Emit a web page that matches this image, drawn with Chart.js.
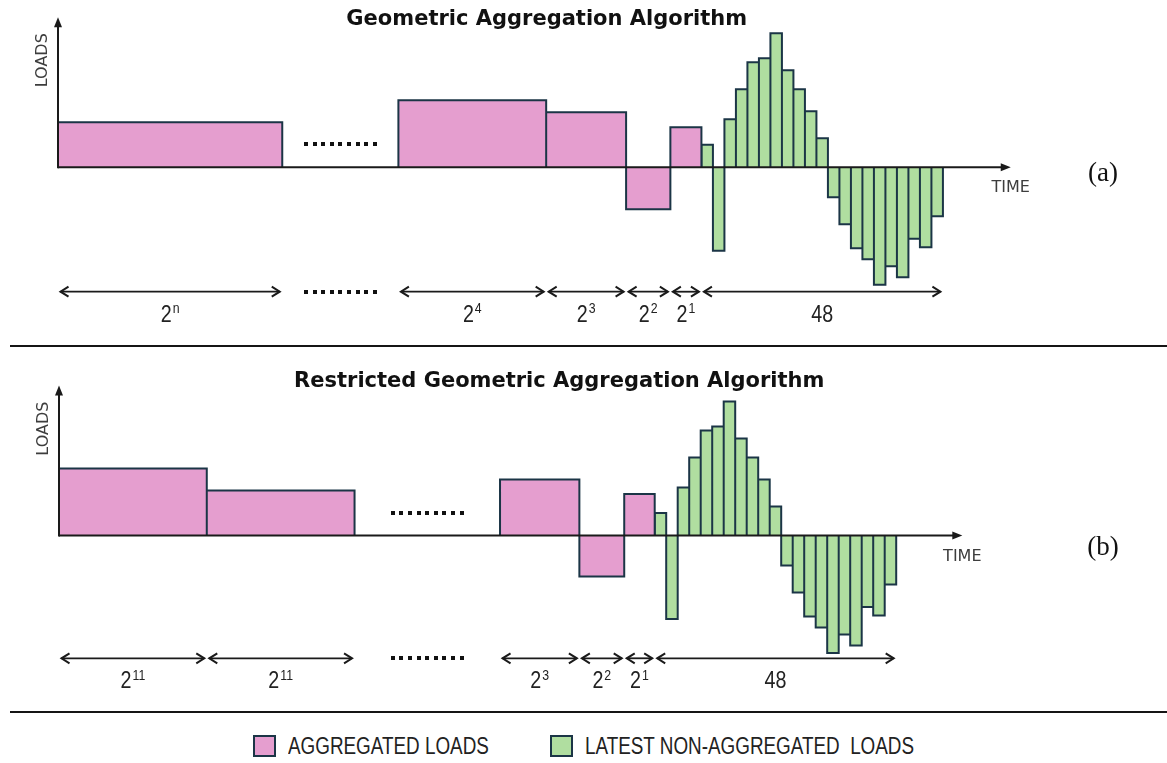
<!DOCTYPE html>
<html>
<head>
<meta charset="utf-8">
<title>Geometric Aggregation Algorithm</title>
<script src="https://cdn.jsdelivr.net/npm/chart.js@4.4.1/dist/chart.umd.min.js"></script>
<style>
  html, body { margin: 0; padding: 0; background: #fff; }
  body { width: 1167px; height: 763px; position: relative; overflow: hidden; }
  .panel { position: absolute; left: 0; width: 1167px; }
  #panelA { top: 0; height: 346px; }
  #panelB { top: 346px; height: 366px; }
  .rule { position: absolute; left: 10px; right: 0; height: 2px; background: #151515; z-index: 2; }
  .tag { position: absolute; transform: translate(-50%, -50%); font-family: 'Liberation Serif', 'Times New Roman', serif;
         font-size: 27px; color: #111; white-space: nowrap; }
  #legend { position: absolute; top: 734px; left: 0; width: 1167px; height: 24px; display: flex;
            justify-content: center; align-items: center; gap: 61px; }
  #legend .entry { display: flex; align-items: center; }
  #legend .swatch { width: 19px; height: 18px; border: 2.5px solid; margin-right: 12px; }
  #legend .label { display: inline-block; font-family: 'Liberation Sans', Arial, sans-serif; font-size: 23px;
                   color: #222; white-space: pre; transform: scaleX(0.82); transform-origin: left center; }
</style>
</head>
<body>
<div class="panel" id="panelA"><canvas id="chartA"></canvas></div>
<div class="rule" style="top:345px"></div>
<div class="panel" id="panelB"><canvas id="chartB"></canvas></div>
<div class="rule" style="top:711px"></div>
<div class="tag" style="left:1103px; top:172px">(a)</div>
<div class="tag" style="left:1103px; top:546px">(b)</div>
<div id="legend"></div>

<script>
// Most recent loads, one per time step, kept at full resolution in both schemes.
const latestLoads = [2.25, -8.35, 4.8, 7.8, 10.5, 10.9, 13.4, 9.7, 7.8, 5.6, 2.9,
                     -3.0, -5.7, -8.1, -9.2, -11.75, -9.9, -11.0, -7.15, -8.0, -4.9];
const latestSpan = ['48', ''];

// (a) Geometric aggregation: older blocks double in length.
const aggSpansA   = [['2', 'n'], ['2', '4'], ['2', '3'], ['2', '2'], ['2', '1']];
const aggWidthsA  = [19.5, 12.85, 6.95, 3.85, 2.7];
const aggLoadsA   = [4.5, 6.7, 5.5, -4.2, 4.0];
const elidedAfterA = 0;      // blocks left out ("........") after this one
const elidedWidthA = 10.1;

// (b) Restricted geometric aggregation: block length capped at 2^11.
const aggSpansB   = [['2', '11'], ['2', '11'], ['2', '3'], ['2', '2'], ['2', '1']];
const aggWidthsB  = [12.85, 12.85, 6.9, 3.9, 2.65];
const aggLoadsB   = [6.7, 4.5, 5.6, -4.1, 4.15];
const elidedAfterB = 1;
const elidedWidthB = 12.65;

const seriesNames = ['AGGREGATED LOADS', 'LATEST NON-AGGREGATED  LOADS'];
const panelTitles = ['Geometric Aggregation Algorithm', 'Restricted Geometric Aggregation Algorithm'];
const axisNames = ['LOADS', 'TIME'];

// ---- styling
const PINK = '#e59ecf';
const GREEN = '#b0dea0';
const EDGE = '#1b3546';
const INK = '#1a1a1a';
const NARROW = 0.82;

// Lay the blocks end to end along the time axis.
function buildPanel(spans, widths, loads, elidedAfter, elidedWidth) {
  const blocks = [];
  let gap = null;
  let x = 0;
  widths.forEach((w, i) => {
    blocks.push({ from: x, to: x + w, load: loads[i], span: spans[i] });
    x += w;
    if (i === elidedAfter) {
      gap = { from: x, to: x + elidedWidth };
      x += elidedWidth;
    }
  });
  const latest = latestLoads.map((v, i) => ({ from: x + i, to: x + i + 1, load: v }));
  return { blocks, gap, latest };
}

// Outline of consecutive rectangles as a step line; a null point breaks the
// outline where blocks are not adjacent.
function stepPoints(blocks) {
  const pts = [];
  blocks.forEach((b, i) => {
    const prev = blocks[i - 1];
    if (prev && prev.to !== b.from) pts.push({ x: (prev.to + b.from) / 2, y: null });
    pts.push({ x: b.from, y: 0 }, { x: b.from, y: b.load }, { x: b.to, y: b.load }, { x: b.to, y: 0 });
  });
  return pts;
}

function chevron(ctx, tipX, yy, dir) {
  ctx.beginPath();
  ctx.moveTo(tipX - dir * 8, yy - 5);
  ctx.lineTo(tipX, yy);
  ctx.lineTo(tipX - dir * 8, yy + 5);
  ctx.stroke();
}

function narrowText(ctx, text, x, y, font) {
  ctx.save();
  ctx.translate(x, y);
  ctx.scale(NARROW, 1);
  ctx.font = font;
  ctx.fillText(text, 0, 0);
  ctx.restore();
}

function spanLabel(ctx, cx, baseY, label) {
  const baseFont = '24px "Liberation Sans", Arial, sans-serif';
  const expFont = '15px "Liberation Sans", Arial, sans-serif';
  ctx.font = baseFont;
  const bw = ctx.measureText(label[0]).width * NARROW;
  ctx.font = expFont;
  const ew = label[1] ? ctx.measureText(label[1]).width * NARROW + 1 : 0;
  const left = cx - (bw + ew) / 2;
  ctx.textAlign = 'left';
  ctx.textBaseline = 'alphabetic';
  narrowText(ctx, label[0], left, baseY, baseFont);
  if (label[1]) narrowText(ctx, label[1], left + bw + 1, baseY - 8.5, expFont);
}

function dotRow(ctx, cx, yy) {
  for (let i = 0; i < 9; i++) ctx.fillRect(Math.round(cx + (i - 4) * 8.6 - 2), Math.round(yy - 2), 4, 4);
}

// Axes with arrowheads, axis names, elision dots and the span arrows under the bars.
const decorations = {
  id: 'decorations',
  afterDatasetsDraw(chart, args, o) {
    const { ctx, scales: { x, y } } = chart;
    const p = o.panel;
    const x0 = x.getPixelForValue(0);
    const y0 = y.getPixelForValue(0);
    const yTop = y.getPixelForValue(o.axisTop);
    const xEnd = x.getPixelForValue(o.axisEnd);
    ctx.save();
    ctx.strokeStyle = INK;
    ctx.fillStyle = INK;
    ctx.lineWidth = 2;
    ctx.lineCap = 'butt';

    // time axis
    ctx.beginPath(); ctx.moveTo(x0, y0); ctx.lineTo(xEnd - 8, y0); ctx.stroke();
    ctx.beginPath(); ctx.moveTo(xEnd, y0); ctx.lineTo(xEnd - 10, y0 - 4); ctx.lineTo(xEnd - 10, y0 + 4); ctx.closePath(); ctx.fill();
    // load axis
    ctx.beginPath(); ctx.moveTo(x0, y0 + 1); ctx.lineTo(x0, yTop + 8); ctx.stroke();
    ctx.beginPath(); ctx.moveTo(x0, yTop); ctx.lineTo(x0 - 4, yTop + 10); ctx.lineTo(x0 + 4, yTop + 10); ctx.closePath(); ctx.fill();

    // axis names
    ctx.fillStyle = '#3d3d3d';
    ctx.font = '16px "DejaVu Sans", sans-serif';
    ctx.textAlign = 'center';
    ctx.textBaseline = 'middle';
    ctx.fillText(axisNames[1], xEnd, y0 + 21);
    ctx.save();
    ctx.translate(x0 - 15, y.getPixelForValue(o.loadsLabelAt));
    ctx.rotate(-Math.PI / 2);
    ctx.fillText(axisNames[0], 0, 0);
    ctx.restore();

    // elided blocks
    ctx.fillStyle = '#111';
    const gx = x.getPixelForValue((p.gap.from + p.gap.to) / 2);
    const rowY = y.getPixelForValue(o.spanRow);
    dotRow(ctx, gx, y.getPixelForValue(o.dotsAt));
    dotRow(ctx, gx, rowY);

    // span arrows with their lengths
    const spans = p.blocks.map(b => ({ from: b.from, to: b.to, label: b.span }));
    spans.push({ from: p.latest[0].from, to: p.latest[p.latest.length - 1].to, label: latestSpan });
    ctx.strokeStyle = INK;
    ctx.fillStyle = '#222';
    spans.forEach(s => {
      const a = x.getPixelForValue(s.from) + 2.5;
      const b = x.getPixelForValue(s.to) - 2.5;
      ctx.lineWidth = 1.8;
      ctx.beginPath(); ctx.moveTo(a, rowY); ctx.lineTo(b, rowY); ctx.stroke();
      ctx.lineWidth = 2;
      chevron(ctx, a, rowY, -1);
      chevron(ctx, b, rowY, 1);
      spanLabel(ctx, (a + b) / 2, rowY + 30, s.label);
    });
    ctx.restore();
  }
};

// Legend built as HTML from the chart's own legend items.
const htmlLegend = {
  id: 'htmlLegend',
  afterUpdate(chart, args, o) {
    if (!o || !o.containerID) return;
    const holder = document.getElementById(o.containerID);
    holder.innerHTML = '';
    const items = Chart.defaults.plugins.legend.labels.generateLabels(chart);
    items.forEach(item => {
      const entry = document.createElement('div');
      entry.className = 'entry';
      const swatch = document.createElement('span');
      swatch.className = 'swatch';
      swatch.style.background = item.fillStyle;
      swatch.style.borderColor = item.strokeStyle;
      const label = document.createElement('span');
      label.className = 'label';
      label.textContent = item.text;
      entry.append(swatch, label);
      holder.append(entry);
      label.style.marginRight = (-label.offsetWidth * (1 - NARROW)) + 'px';
    });
  }
};

function dataset(name, blocks, color) {
  return {
    label: name,
    data: stepPoints(blocks),
    backgroundColor: color,
    borderColor: EDGE,
    borderWidth: 2,
    borderJoinStyle: 'miter',
    fill: 'origin',
    tension: 0,
    spanGaps: false,
    pointRadius: 0,
    clip: false
  };
}

function makeChart(id, panel, cfg) {
  return new Chart(document.getElementById(id), {
    type: 'line',
    data: {
      datasets: [
        dataset(seriesNames[0], panel.blocks, PINK),
        dataset(seriesNames[1], panel.latest, GREEN)
      ]
    },
    options: {
      responsive: true,
      maintainAspectRatio: false,
      animation: false,
      events: [],
      layout: { padding: cfg.padding },
      scales: {
        x: { type: 'linear', display: false, min: 0, max: cfg.xMax },
        y: { type: 'linear', display: false, min: cfg.yMin, max: cfg.yMax }
      },
      plugins: {
        legend: { display: false },
        tooltip: { enabled: false },
        title: {
          display: true,
          text: cfg.title,
          color: '#111',
          font: { family: 'DejaVu Sans', weight: 'bold', size: 21, lineHeight: 1.2 },
          padding: cfg.titlePadding
        },
        decorations: Object.assign({ panel }, cfg.marks),
        htmlLegend: cfg.legend || {}
      }
    },
    plugins: [decorations, htmlLegend]
  });
}

const panelA = buildPanel(aggSpansA, aggWidthsA, aggLoadsA, elidedAfterA, elidedWidthA);
const panelB = buildPanel(aggSpansB, aggWidthsB, aggLoadsB, elidedAfterB, elidedWidthB);

makeChart('chartA', panelA, {
  title: panelTitles[0],
  titlePadding: { top: 7, bottom: 0 },
  padding: { left: 58, right: 131.5, top: 0, bottom: 8.8 },
  xMax: 85, yMin: -17, yMax: 13.5,
  marks: { axisTop: 15, axisEnd: 82.85, spanRow: -12.45, dotsAt: 2.3, loadsLabelAt: 10.7 }
});

makeChart('chartB', panelB, {
  title: panelTitles[1],
  titlePadding: { top: 23.4, bottom: 0 },
  padding: { left: 59, right: 107.5, top: 0, bottom: 6.4 },
  xMax: 87, yMin: -17, yMax: 14.1,
  marks: { axisTop: 15, axisEnd: 78.55, spanRow: -12.27, dotsAt: 2.3, loadsLabelAt: 10.7 },
  legend: { containerID: 'legend' }
});
</script>
</body>
</html>
